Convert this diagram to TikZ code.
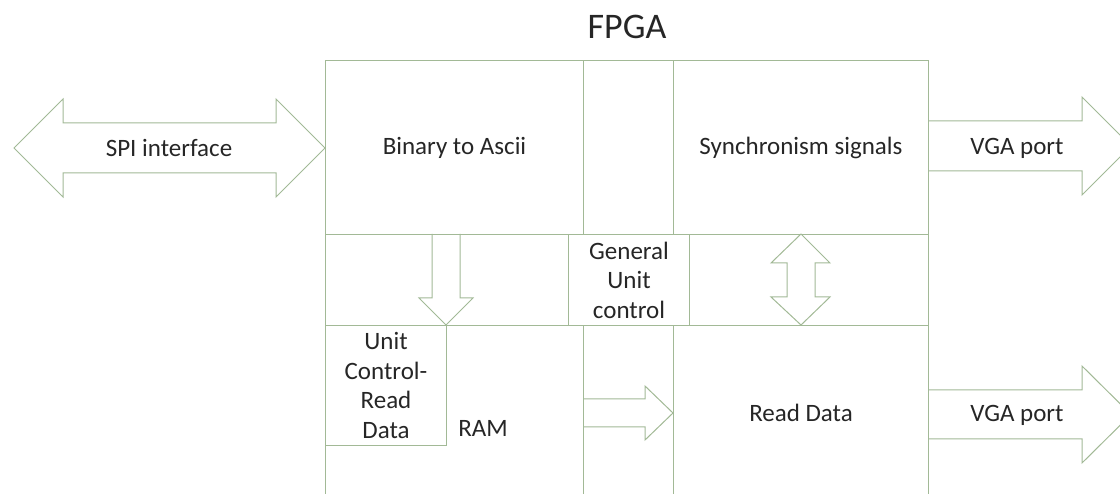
\documentclass[tikz,border=0pt]{standalone}
\usepackage{fontspec}
\setmainfont{Carlito}
\usepackage{tikz}
\usetikzlibrary{positioning}
\definecolor{wire}{HTML}{A2B996}
\definecolor{ink}{HTML}{262626}
\tikzset{
  block/.style={rectangle,draw=wire,line width=1pt,anchor=north west,inner sep=0pt,
    text=ink,align=center,font=\fontsize{25}{29.5}\selectfont},
  txt/.style={inner sep=0pt,text=ink,align=center,font=\fontsize{25}{29.5}\selectfont},
  barrow/.style={draw=wire,line width=1pt,line join=miter}
}

\begin{document}
\begin{tikzpicture}[x=1pt,y=-1pt]
\clip (0,0) rectangle (1120,494);
\node[txt,font=\fontsize{36}{40}\selectfont] (title) at (627,27) {FPGA};
% FPGA blocks
\node[block,minimum width=603pt,minimum height=440pt] (fpga) at (325,60) {};
\node[block,minimum width=258pt,minimum height=174pt] (bin) at (325,60) {Binary to Ascii};
\node[block,minimum width=255pt,minimum height=174pt] (sync) at (673,60) {Synchronism signals};
\node[block,minimum width=603pt,minimum height=91pt] (mid) at (325,234) {};
\node[block,minimum width=121pt,minimum height=91pt] (guc) at (568,234) {General\\Unit\\control};
\node[block,minimum width=258pt,minimum height=175pt] (ram) at (325,325) {};
\node[block,minimum width=255pt,minimum height=175pt] (read) at (673,325) {Read Data};
\node[block,minimum width=121pt,minimum height=120pt] (ucrd) at (325,325) {Unit\\Control-\\Read\\Data};
\node[txt] (ramtxt) at (483,428) {RAM};
% block arrows
\draw[barrow] (14,148) -- (63,99) -- (63,123) -- (276,123) -- (276,99) -- (325,148)
  -- (276,197) -- (276,173) -- (63,173) -- (63,197) -- cycle;
\node[txt] (spi) at (169,148) {SPI interface};
\draw[barrow] (928,121) -- (1082,121) -- (1082,97) -- (1131,146) -- (1082,195)
  -- (1082,171) -- (928,171);
\node[txt] (vga1) at (1017,148) {VGA port};
\draw[barrow] (928,390) -- (1082,390) -- (1082,366) -- (1131,414.5) -- (1082,463)
  -- (1082,439) -- (928,439);
\node[txt] (vga2) at (1017,415) {VGA port};
\draw[barrow] (432,234) -- (432,298) -- (419,298) -- (446,325) -- (473,298)
  -- (460,298) -- (460,234);
\draw[barrow] (801,234) -- (830,263) -- (815,263) -- (815,297) -- (830,297) -- (801,325)
  -- (771,297) -- (787,297) -- (787,263) -- (771,263) -- cycle;
\draw[barrow] (583,399) -- (645,399) -- (645,386) -- (673,413) -- (645,440)
  -- (645,427) -- (583,427);
\end{tikzpicture}
\end{document}
